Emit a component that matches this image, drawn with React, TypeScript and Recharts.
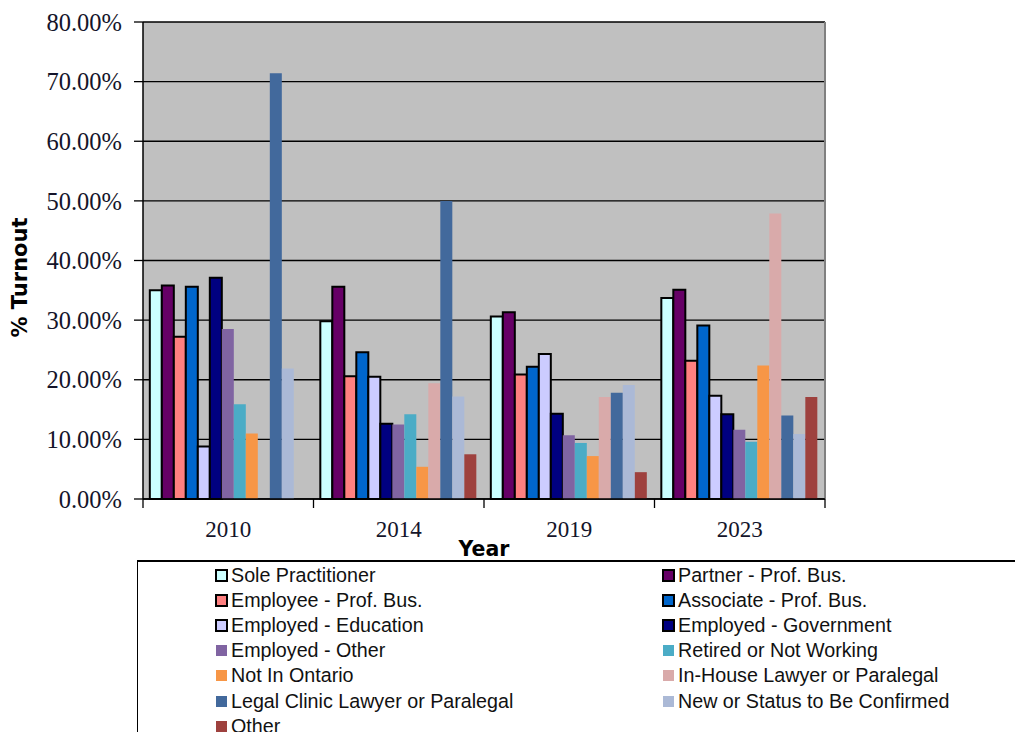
import { BarChart, Bar, XAxis, YAxis, CartesianGrid, Legend } from 'recharts'

const years = ['2010', '2014', '2019', '2023']

// % turnout by membership status
const soleValues = [35.0, 29.8, 30.6, 33.7]
const partnerValues = [35.8, 35.6, 31.3, 35.1]
const employeeValues = [27.2, 20.6, 20.9, 23.2]
const associateValues = [35.6, 24.6, 22.2, 29.1]
const educationValues = [8.8, 20.5, 24.3, 17.3]
const governmentValues = [37.1, 12.6, 14.3, 14.2]
const employedOtherValues = [28.5, 12.5, 10.7, 11.6]
const retiredValues = [15.9, 14.2, 9.4, 9.6]
const notOntarioValues = [11.0, 5.4, 7.2, 22.4]
const inHouseValues = [0, 19.4, 17.1, 47.9]
const legalClinicValues = [71.4, 50.0, 17.8, 14.0]
const newValues = [21.9, 17.2, 19.1, 10.9]
const otherValues = [0, 7.5, 4.5, 17.1]

const yTicks = [0, 10, 20, 30, 40, 50, 60, 70, 80]

const series = [
  { key: 'sole', name: 'Sole Practitioner', color: '#CCFFFF', values: soleValues, outlined: true },
  { key: 'partner', name: 'Partner - Prof. Bus.', color: '#660066', values: partnerValues, outlined: true },
  { key: 'employee', name: 'Employee - Prof. Bus.', color: '#FF8080', values: employeeValues, outlined: true },
  { key: 'associate', name: 'Associate - Prof. Bus.', color: '#0066CC', values: associateValues, outlined: true },
  { key: 'education', name: 'Employed - Education', color: '#CCCCFF', values: educationValues, outlined: true },
  { key: 'government', name: 'Employed - Government', color: '#000080', values: governmentValues, outlined: true },
  { key: 'empOther', name: 'Employed - Other', color: '#8064A2', values: employedOtherValues, outlined: false },
  { key: 'retired', name: 'Retired or Not Working', color: '#4BACC6', values: retiredValues, outlined: false },
  { key: 'notOntario', name: 'Not In Ontario', color: '#F79646', values: notOntarioValues, outlined: false },
  { key: 'inHouse', name: 'In-House Lawyer or Paralegal', color: '#D9AAAA', values: inHouseValues, outlined: false },
  { key: 'legalClinic', name: 'Legal Clinic Lawyer or Paralegal', color: '#42699C', values: legalClinicValues, outlined: false },
  { key: 'newStatus', name: 'New or Status to Be Confirmed', color: '#ABB9D6', values: newValues, outlined: false },
  { key: 'other', name: 'Other', color: '#9E413E', values: otherValues, outlined: false },
]

const data = years.map((year, i) => {
  const row: Record<string, string | number> = { year }
  series.forEach((s) => {
    row[s.key] = s.values[i]
  })
  return row
})

const serif = '"Liberation Serif", "Times New Roman", serif'
const sans = '"Liberation Sans", Arial, sans-serif'
const boldSans = '"DejaVu Sans", Verdana, sans-serif'

function YearTick(props: any) {
  const { x, y, payload, index } = props
  const half = payload.offset ?? 85
  return (
    <g>
      <line x1={x - half} y1={y - 20} x2={x - half} y2={y - 11} stroke="#000" strokeWidth={1.3} />
      {index === years.length - 1 && (
        <line x1={x + half} y1={y - 20} x2={x + half} y2={y - 11} stroke="#000" strokeWidth={1.3} />
      )}
      <text x={x} y={y} dy="0.78em" textAnchor="middle" fontFamily={serif} fontSize={23} fill="#14142a">
        {payload.value}
      </text>
    </g>
  )
}

function LegendBox() {
  return (
    <div
      style={{
        width: 900,
        height: 200,
        borderLeft: '1px solid #000',
        borderTop: '2px solid #000',
        background: '#fff',
        position: 'relative',
        fontFamily: sans,
        fontSize: 19.7,
        color: '#111',
      }}
    >
      {series.map((s, i) => {
        const col = i % 2
        const row = Math.floor(i / 2)
        return (
          <div
            key={s.key}
            style={{
              position: 'absolute',
              left: col === 0 ? 77 : 524,
              top: 2 + row * 25.2,
              height: 22,
              display: 'flex',
              alignItems: 'center',
              whiteSpace: 'nowrap',
            }}
          >
            <span
              style={{
                display: 'inline-block',
                boxSizing: 'border-box',
                width: s.outlined ? 13 : 11,
                height: s.outlined ? 13 : 11,
                marginLeft: s.outlined ? 0 : 1,
                marginRight: s.outlined ? 3 : 4,
                background: s.color,
                border: s.outlined ? '2px solid #000' : 'none',
              }}
            />
            <span>{s.name}</span>
          </div>
        )
      })}
    </div>
  )
}

export default function App() {
  return (
    <div style={{ position: 'fixed', left: 0, top: 0, width: 1015, height: 732, overflow: 'hidden', background: '#fff' }}>
      <BarChart
        width={1015}
        height={732}
        data={data}
        margin={{ top: 22, right: 190, bottom: 173, left: 0 }}
        barCategoryGap="4%"
        barGap={0}
      >
        <CartesianGrid vertical={false} stroke="#000" strokeWidth={1.3} fill="#C0C0C0" fillOpacity={1} />
        <CartesianGrid
          horizontal={false}
          stroke="#808080"
          strokeWidth={2}
          verticalCoordinatesGenerator={({ offset }: any) => [offset.left + offset.width]}
        />
        <XAxis
          dataKey="year"
          height={60}
          axisLine={{ stroke: '#000', strokeWidth: 1.3 }}
          tickLine={false}
          tickSize={0}
          tickMargin={20}
          tick={<YearTick />}
          label={{
            value: 'Year',
            position: 'insideTop',
            offset: 42,
            fontFamily: boldSans,
            fontWeight: 'bold',
            fontSize: 20.5,
            fill: '#000',
          }}
        />
        <YAxis
          width={143}
          domain={[0, 80]}
          ticks={yTicks}
          interval={0}
          axisLine={{ stroke: '#000', strokeWidth: 1.5 }}
          tickLine={{ stroke: '#000', strokeWidth: 1.3 }}
          tickSize={9}
          tickMargin={12}
          tickFormatter={(v: number) => `${v.toFixed(2)}%`}
          tick={{ fontFamily: serif, fontSize: 24.5, fill: '#14142a' }}
          label={{
            content: ({ viewBox }: any) => (
              <text
                x={20}
                y={viewBox.y + viewBox.height / 2 + 17}
                transform={`rotate(-90, 20, ${viewBox.y + viewBox.height / 2 + 17})`}
                textAnchor="middle"
                dominantBaseline="central"
                fontFamily={boldSans}
                fontWeight="bold"
                fontSize={21}
                fill="#000"
              >
                % Turnout
              </text>
            ),
          }}
        />
        {series.map((s) => (
          <Bar
            key={s.key}
            dataKey={s.key}
            name={s.name}
            fill={s.color}
            stroke={s.outlined ? '#000' : 'none'}
            strokeWidth={s.outlined ? 2 : 0}
            isAnimationActive={false}
          />
        ))}
        <Legend
          layout="horizontal"
          verticalAlign="middle"
          align="center"
          content={() => <LegendBox />}
          wrapperStyle={{ left: 137, top: 560, width: 900, height: 200 }}
        />
      </BarChart>
    </div>
  )
}
